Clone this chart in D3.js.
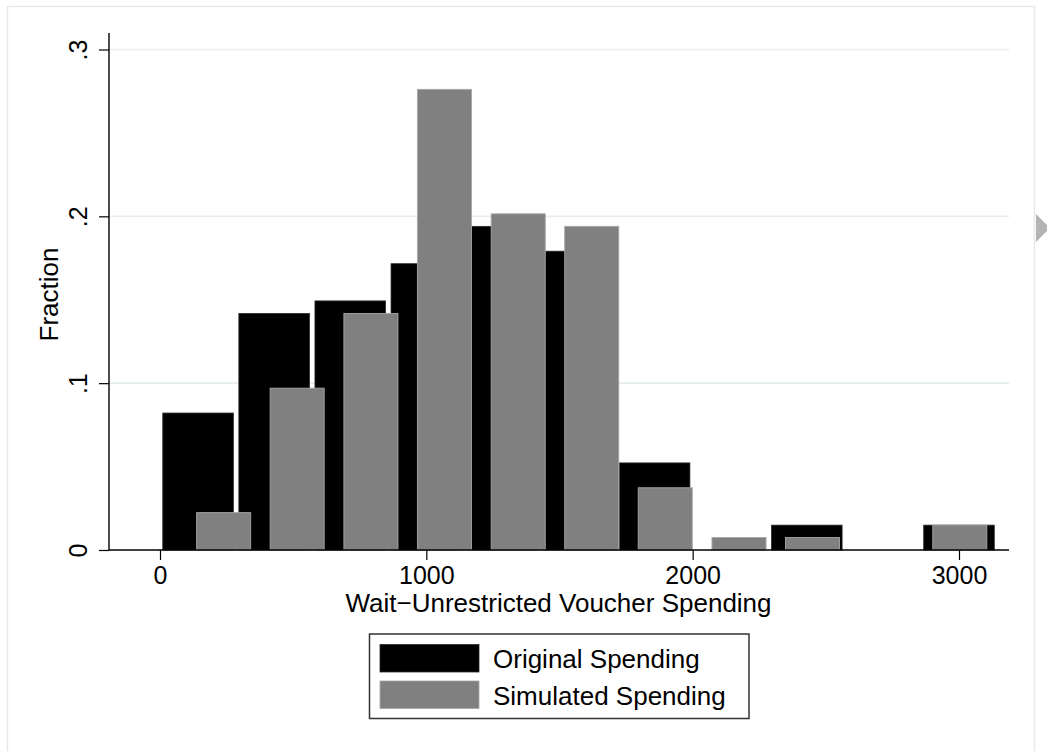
<!DOCTYPE html>
<html>
<head>
<meta charset="utf-8">
<script src="https://cdn.jsdelivr.net/npm/d3@7/dist/d3.min.js"></script>
<style>
  html, body { margin: 0; padding: 0; background: #fff; }
  svg { display: block; }
  text { font-family: "Liberation Sans", Arial, Helvetica, sans-serif; fill: #000; }
</style>
</head>
<body>
<svg id="chart" width="1047" height="751"></svg>
<script>
// ---- data ----
const originalMid  = [142.9, 428.6, 714.3, 1000, 1285.7, 1571.4, 1857.1, 2142.9, 2428.6, 2714.3, 3000];
const originalFrac = [0.0821, 0.1418, 0.1493, 0.1716, 0.1940, 0.1791, 0.0522, 0, 0.0149, 0, 0.0149];
const simulatedMid  = [239, 515, 792, 1068, 1345, 1621, 1897, 2174, 2450, 2727, 3003];
const simulatedFrac = [0.0224, 0.0970, 0.1418, 0.2761, 0.2015, 0.1940, 0.0373, 0.0075, 0.0075, 0, 0.0149];
const xTicks = [0, 1000, 2000, 3000];
const yTicks = [0, 0.1, 0.2, 0.3];
const yTickLabels = ["0", ".1", ".2", ".3"];
const seriesNames = ["Original Spending", "Simulated Spending"];
const xTitle = "Wait\u2212Unrestricted Voucher Spending";
const yTitle = "Fraction";

// ---- layout / style ----
const plot = { left: 109, right: 1009, top: 33, bottom: 550 };
const originalBarWidth = 265;   // data units
const simulatedBarWidth = 203;  // data units
const colors = { original: "#000000", simulated: "#808080", grid: "#e6edf1", frame: "#e3eaed" };
const tickFont = 25;
const titleFont = 26;

const svg = d3.select("#chart");

// outer graph region border
svg.append("rect")
  .attr("x", 7.5).attr("y", 6.5).attr("width", 1027).attr("height", 760)
  .attr("fill", "#fff").attr("stroke", colors.frame).attr("stroke-width", 1.5);

// viewer arrow decoration at right edge
svg.append("path")
  .attr("d", "M1036,214 L1050,228 L1036,242 Z")
  .attr("fill", "#b4b4b4");

const x = d3.scaleLinear().domain([0, 3000]).range([160, 959]);
const y = d3.scaleLinear().domain([0, 0.3]).range([550, 49.5]);

// gridlines
svg.append("g").selectAll("line")
  .data(yTicks.filter(d => d > 0))
  .join("line")
  .attr("x1", plot.left).attr("x2", plot.right)
  .attr("y1", d => y(d)).attr("y2", d => y(d))
  .attr("stroke", colors.grid).attr("stroke-width", 1.6);

// bars
const orig = originalMid.map((m, i) => ({ m, v: originalFrac[i] })).filter(d => d.v > 0);
const sim = simulatedMid.map((m, i) => ({ m, v: simulatedFrac[i] })).filter(d => d.v > 0);

svg.append("g").selectAll("rect")
  .data(orig)
  .join("rect")
  .attr("x", d => x(d.m - originalBarWidth / 2))
  .attr("width", d => x(d.m + originalBarWidth / 2) - x(d.m - originalBarWidth / 2))
  .attr("y", d => y(d.v))
  .attr("height", d => y(0) - y(d.v))
  .attr("fill", colors.original)
  .attr("stroke", "#2a2a2a").attr("stroke-width", 0.8);

svg.append("g").selectAll("rect")
  .data(sim)
  .join("rect")
  .attr("x", d => x(d.m - simulatedBarWidth / 2))
  .attr("width", d => x(d.m + simulatedBarWidth / 2) - x(d.m - simulatedBarWidth / 2))
  .attr("y", d => y(d.v))
  .attr("height", d => y(0) - y(d.v))
  .attr("fill", colors.simulated)
  .attr("stroke", "#a6a6a6").attr("stroke-width", 0.9);

// x axis
const xAxis = d3.axisBottom(x).tickValues(xTicks).tickSize(10).tickPadding(6.5).tickFormat(d3.format("d"));
const gx = svg.append("g").attr("transform", `translate(0,${plot.bottom})`).call(xAxis);
gx.select(".domain").remove();
gx.append("line").attr("x1", plot.left).attr("x2", plot.right).attr("y1", 0).attr("y2", 0)
  .attr("stroke", "#000").attr("stroke-width", 1.4);
gx.selectAll(".tick line").attr("stroke", "#000").attr("stroke-width", 1.2);
gx.selectAll(".tick text").attr("font-size", tickFont).attr("fill", "#000")
  .attr("font-family", "Liberation Sans, Arial, sans-serif");

// y axis
const yAxis = d3.axisLeft(y).tickValues(yTicks).tickSize(10).tickFormat((d, i) => yTickLabels[i]);
const gy = svg.append("g").attr("transform", `translate(${plot.left},0)`).call(yAxis);
gy.select(".domain").remove();
gy.append("line").attr("x1", 0).attr("x2", 0).attr("y1", plot.top).attr("y2", plot.bottom)
  .attr("stroke", "#000").attr("stroke-width", 1.4);
gy.selectAll(".tick line").attr("stroke", "#000").attr("stroke-width", 1.2);
gy.selectAll(".tick text")
  .attr("font-size", tickFont).attr("fill", "#000")
  .attr("font-family", "Liberation Sans, Arial, sans-serif")
  .attr("x", null).attr("dy", null)
  .attr("text-anchor", "middle")
  .attr("transform", "translate(-22,0) rotate(-90)");

// axis titles
svg.append("text")
  .attr("x", (plot.left + plot.right) / 2 - 0.5).attr("y", 612)
  .attr("text-anchor", "middle").attr("font-size", titleFont)
  .text(xTitle);

svg.append("text")
  .attr("transform", `translate(58,${(plot.top + plot.bottom) / 2 + 3}) rotate(-90)`)
  .attr("text-anchor", "middle").attr("font-size", titleFont)
  .text(yTitle);

// legend
const lg = svg.append("g");
lg.append("rect")
  .attr("x", 369.5).attr("y", 634).attr("width", 379.5).attr("height", 84.5)
  .attr("fill", "#fff").attr("stroke", "#333").attr("stroke-width", 1.5);
const legendColors = [colors.original, colors.simulated];
const legendStroke = ["#2a2a2a", "#a6a6a6"];
const legendY = [644.5, 681];
seriesNames.forEach((name, i) => {
  lg.append("rect")
    .attr("x", 380).attr("y", legendY[i]).attr("width", 99).attr("height", 27.5)
    .attr("fill", legendColors[i]).attr("stroke", legendStroke[i]).attr("stroke-width", 0.8);
  lg.append("text")
    .attr("x", 493).attr("y", legendY[i] + 23.8)
    .attr("font-size", titleFont)
    .text(name);
});
</script>
</body>
</html>
